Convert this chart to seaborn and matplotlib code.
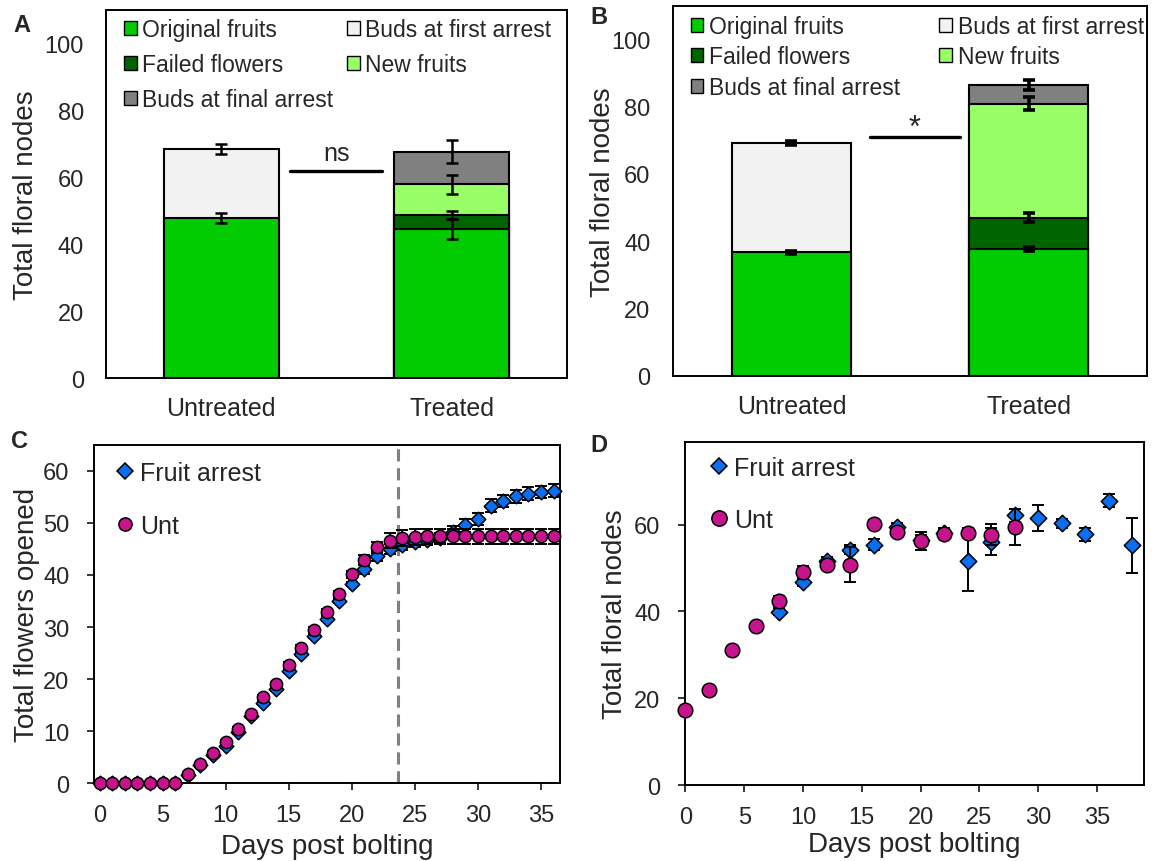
import matplotlib
matplotlib.use("Agg")
import matplotlib.pyplot as plt
from matplotlib.patches import Patch
from matplotlib.lines import Line2D
import numpy as np
import pandas as pd
import seaborn as sns

# ---- data -------------------------------------------------------------
groups = ["Untreated", "Treated"]
seg_colors = {"Original fruits": "#00CC00", "Failed flowers": "#006400",
              "New fruits": "#99FF66", "Buds at first arrest": "#F2F2F2",
              "Buds at final arrest": "#808080"}
# stacking order, bottom to top
stack_order = ["Original fruits", "Failed flowers", "New fruits",
               "Buds at first arrest", "Buds at final arrest"]

# panel A segment heights (nan = absent) and errors
a_orig = [48.0, 44.7]
a_orig_err = [1.5, 3.0]
a_failed = [np.nan, 4.2]
a_failed_err = [np.nan, 1.2]
a_new = [np.nan, 9.1]
a_new_err = [np.nan, 2.9]
a_first = [20.5, np.nan]
a_first_err = [1.6, np.nan]
a_final = [np.nan, 9.7]
a_final_err = [np.nan, 3.4]

# panel B
b_orig = [36.7, 37.7]
b_orig_err = [0.5, 0.6]
b_failed = [np.nan, 9.3]
b_failed_err = [np.nan, 1.4]
b_new = [np.nan, 33.9]
b_new_err = [np.nan, 1.9]
b_first = [32.6, np.nan]
b_first_err = [0.6, np.nan]
b_final = [np.nan, 5.5]
b_final_err = [np.nan, 1.5]

# panel C
days_c = [0, 1, 2, 3, 4, 5, 6, 7, 8, 9, 10, 11, 12, 13, 14, 15, 16, 17, 18,
          19, 20, 21, 22, 23, 24, 25, 26, 27, 28, 29, 30, 31, 32, 33, 34, 35, 36]
unt_c = [0, 0, 0, 0, 0, 0, 0, 1.8, 3.7, 5.9, 8.0, 10.5, 13.3, 16.6, 19.1,
         22.7, 26.0, 29.5, 32.9, 36.4, 40.1, 42.9, 45.3, 46.6, 47.1, 47.3,
         47.4, 47.4, 47.4, 47.4, 47.4, 47.4, 47.4, 47.4, 47.4, 47.4, 47.4]
unt_c_err = [0, 0, 0, 0, 0, 0, 0, 0.3, 0.3, 0.3, 0.3, 0.3, 0.3, 0.3, 0.3,
             0.6, 0.6, 0.6, 0.6, 0.6, 0.6, 1.0, 1.0, 1.5, 1.5, 1.5, 1.5, 1.5,
             1.5, 1.5, 1.5, 1.5, 1.5, 1.5, 1.5, 1.5, 1.5]
fa_c = [0, 0, 0, 0, 0, 0, 0, 1.6, 3.5, 5.5, 7.2, 9.8, 13.0, 15.5, 18.2,
        21.6, 24.8, 28.3, 31.5, 35.0, 38.2, 41.2, 43.6, 45.0, 45.8, 46.3,
        46.8, 47.1, 48.2, 49.5, 50.7, 53.3, 54.2, 55.1, 55.6, 55.9, 56.2]
fa_c_err = [0, 0, 0, 0, 0, 0, 0, 0.4, 0.4, 0.4, 0.4, 0.4, 0.4, 0.4, 0.4,
            0.4, 0.4, 0.4, 0.4, 0.4, 0.4, 1.0, 1.0, 1.0, 1.0, 1.0, 1.0, 1.0,
            1.2, 1.2, 1.2, 1.2, 1.2, 1.2, 1.2, 1.2, 1.2]
arrest_day = 23.7

# panel D
days_unt_d = [0, 2, 4, 6, 8, 10, 12, 14, 16, 18, 20, 22, 24, 26, 28]
unt_d = [17.3, 21.9, 31.1, 36.7, 42.5, 49.0, 50.8, 50.8, 60.1, 58.4, 56.2,
         57.8, 58.1, 57.7, 59.4]
unt_d_err = [0.5, 0.5, 0.6, 0.6, 1.0, 1.5, 0.7, 4.0, 1.0, 0.8, 2.0, 1.0,
             1.0, 2.5, 4.2]
days_fa_d = [8, 10, 12, 14, 16, 18, 20, 22, 24, 26, 28, 30, 32, 34, 36, 38]
fa_d = [39.9, 46.8, 51.7, 54.2, 55.4, 59.5, 56.5, 58.1, 51.5, 56.1, 62.1,
        61.5, 60.3, 57.8, 65.5, 55.2]
fa_d_err = [0.8, 1.0, 0.8, 1.0, 1.3, 0.8, 1.2, 1.0, 6.7, 3.0, 1.5, 3.0,
            1.0, 1.5, 1.5, 6.4]

BLUE = "#0A6EF0"
MAGENTA = "#C8148C"

# ---- style ------------------------------------------------------------
sns.set_style("white")
plt.rcParams["font.family"] = ["Liberation Sans", "DejaVu Sans"]
plt.rcParams["axes.edgecolor"] = "black"
plt.rcParams["axes.linewidth"] = 1.4

fig = plt.figure(figsize=(11.52, 8.62), dpi=100)
axA = fig.add_axes([0.092, 0.560, 0.400, 0.427])
axB = fig.add_axes([0.584, 0.563, 0.412, 0.429])
axC = fig.add_axes([0.082, 0.090, 0.404, 0.393])
axD = fig.add_axes([0.595, 0.088, 0.398, 0.398])


def stacked_panel(ax, segs, errs, sig_text, sig_y, sig_x, sig_off, sig_fs,
                  errw, legend_kw):
    df = pd.DataFrame({"group": np.repeat(groups, len(stack_order)),
                       "segment": stack_order * len(groups)})
    df["height"] = [segs[s][i] for i in range(len(groups)) for s in stack_order]
    df["err"] = [errs[s][i] for i in range(len(groups)) for s in stack_order]
    df["cum"] = df.groupby("group")["height"].transform(lambda h: h.fillna(0).cumsum())
    df = df.dropna(subset=["height"])
    # draw tallest first so lower segments overlap them
    for seg in reversed(stack_order):
        sub = df[df["segment"] == seg]
        if sub.empty:
            continue
        sns.barplot(data=sub, x="group", y="cum", order=groups,
                    color=seg_colors[seg], edgecolor="black", linewidth=1.5,
                    width=0.5, saturation=1, ax=ax, zorder=2)
    pos = {g: i for i, g in enumerate(groups)}
    ax.errorbar(df["group"].map(pos), df["cum"], yerr=df["err"], fmt="none",
                ecolor="black", elinewidth=errw, capsize=4.5, capthick=errw,
                zorder=5)
    ax.plot(sig_x, [sig_y, sig_y], color="black", lw=2.4, zorder=5)
    ax.text(np.mean(sig_x), sig_y + sig_off, sig_text, ha="center",
            va="bottom", fontsize=sig_fs)
    ax.set_xlim(-0.5, 1.5)
    ax.set_ylim(0, 110)
    ax.set_yticks([0, 20, 40, 60, 80, 100])
    ax.set_xlabel("")
    ax.set_ylabel("Total floral nodes", fontsize=20)
    ax.tick_params(axis="y", length=0, pad=16, labelsize=17)
    ax.tick_params(axis="x", length=0, pad=13, labelsize=18)
    for sp in ax.spines.values():
        sp.set_visible(True)
        sp.set_linewidth(1.4)
    leg_order = ["Original fruits", "Failed flowers", "Buds at final arrest",
                 "Buds at first arrest", "New fruits"]
    handles = [Patch(facecolor=seg_colors[s], edgecolor="black", linewidth=1)
               for s in leg_order]
    ax.legend(handles, leg_order, ncol=2, loc="upper left", frameon=False,
              fontsize=16.5, handlelength=0.55, handleheight=0.55,
              handletextpad=0.25, borderpad=0, borderaxespad=0, **legend_kw)


stacked_panel(axA,
              {"Original fruits": a_orig, "Failed flowers": a_failed,
               "New fruits": a_new, "Buds at first arrest": a_first,
               "Buds at final arrest": a_final},
              {"Original fruits": a_orig_err, "Failed flowers": a_failed_err,
               "New fruits": a_new_err, "Buds at first arrest": a_first_err,
               "Buds at final arrest": a_final_err},
              "ns", 62, [0.30, 0.70], 1.8, 18, 1.8,
              dict(bbox_to_anchor=(0.039, 0.978), columnspacing=0.6,
                   labelspacing=0.52))
axA.yaxis.set_label_coords(-0.145, 0.5)

stacked_panel(axB,
              {"Original fruits": b_orig, "Failed flowers": b_failed,
               "New fruits": b_new, "Buds at first arrest": b_first,
               "Buds at final arrest": b_final},
              {"Original fruits": b_orig_err, "Failed flowers": b_failed_err,
               "New fruits": b_new_err, "Buds at first arrest": b_first_err,
               "Buds at final arrest": b_final_err},
              "*", 71, [0.33, 0.71], -1.8, 22, 2.6,
              dict(bbox_to_anchor=(0.038, 0.975), columnspacing=1.7,
                   labelspacing=0.32))
axB.yaxis.set_label_coords(-0.12, 0.5)


def time_panel(ax, fa_x, fa_y, fa_err, unt_x, unt_y, unt_err, s_fa, s_unt,
               ms_fa, ms_unt, ylabel):
    ax.errorbar(fa_x, fa_y, yerr=fa_err, fmt="none", ecolor="black",
                elinewidth=1.4, capsize=4.5, capthick=1.4, zorder=2,
                clip_on=False)
    sns.scatterplot(x=fa_x, y=fa_y, marker="D", s=s_fa, color=BLUE,
                    edgecolor="black", linewidth=1.1, zorder=3, clip_on=False,
                    ax=ax)
    ax.errorbar(unt_x, unt_y, yerr=unt_err, fmt="none", ecolor="black",
                elinewidth=1.4, capsize=4.5, capthick=1.4, zorder=4,
                clip_on=False)
    sns.scatterplot(x=unt_x, y=unt_y, marker="o", s=s_unt, color=MAGENTA,
                    edgecolor="black", linewidth=1.1, zorder=5, clip_on=False,
                    ax=ax)
    ax.set_xticks([0, 5, 10, 15, 20, 25, 30, 35])
    ax.set_xlabel("Days post bolting", fontsize=20)
    ax.set_ylabel(ylabel, fontsize=20)
    ax.tick_params(axis="both", direction="out", length=5, width=1.3,
                   labelsize=17, bottom=True, left=True)
    ax.tick_params(axis="y", pad=13)
    ax.tick_params(axis="x", pad=10)
    for sp in ax.spines.values():
        sp.set_visible(True)
        sp.set_linewidth(1.4)
    handles = [Line2D([], [], ls="", marker="D", markersize=ms_fa,
                      markerfacecolor=BLUE, markeredgecolor="black",
                      markeredgewidth=1.1),
               Line2D([], [], ls="", marker="o", markersize=ms_unt,
                      markerfacecolor=MAGENTA, markeredgecolor="black",
                      markeredgewidth=1.1)]
    return handles


hC = time_panel(axC, days_c, fa_c, fa_c_err, days_c, unt_c, unt_c_err,
                55, 78, 8.0, 9.5, "Total flowers opened")
axC.axvline(arrest_day, color="#808080", lw=2.2, dashes=(4, 2.2), zorder=1)
axC.set_xlim(-0.4, 36.5)
axC.set_ylim(0, 65)
axC.set_yticks([0, 10, 20, 30, 40, 50, 60])
axC.legend(hC, ["Fruit arrest", "Unt"], loc="upper left",
           bbox_to_anchor=(0.045, 0.952), frameon=False, fontsize=18,
           handlelength=0.8, handletextpad=0.2, labelspacing=1.15,
           borderpad=0, borderaxespad=0)
axC.yaxis.set_label_coords(-0.118, 0.5)
axC.xaxis.set_label_coords(0.5, -0.145)

hD = time_panel(axD, days_fa_d, fa_d, fa_d_err, days_unt_d, unt_d, unt_d_err,
                70, 110, 8.0, 11.0, "Total floral nodes")
axD.set_xlim(0, 39)
axD.set_ylim(0, 79)
axD.set_yticks([0, 20, 40, 60])
axD.legend(hD, ["Fruit arrest", "Unt"], loc="upper left",
           bbox_to_anchor=(0.052, 0.959), frameon=False, fontsize=18,
           handlelength=0.8, handletextpad=0.2, labelspacing=1.1,
           borderpad=0, borderaxespad=0)
axD.yaxis.set_label_coords(-0.126, 0.5)
axD.xaxis.set_label_coords(0.5, -0.135)

# panel letters
for letter, (px, py) in {"A": (22, 26), "B": (599, 17), "C": (19, 442),
                         "D": (599, 446)}.items():
    fig.text(px / 1152, 1 - py / 862, letter, fontsize=17, fontweight="bold",
             ha="center", va="center")

fig.savefig("out.png", dpi=100)
